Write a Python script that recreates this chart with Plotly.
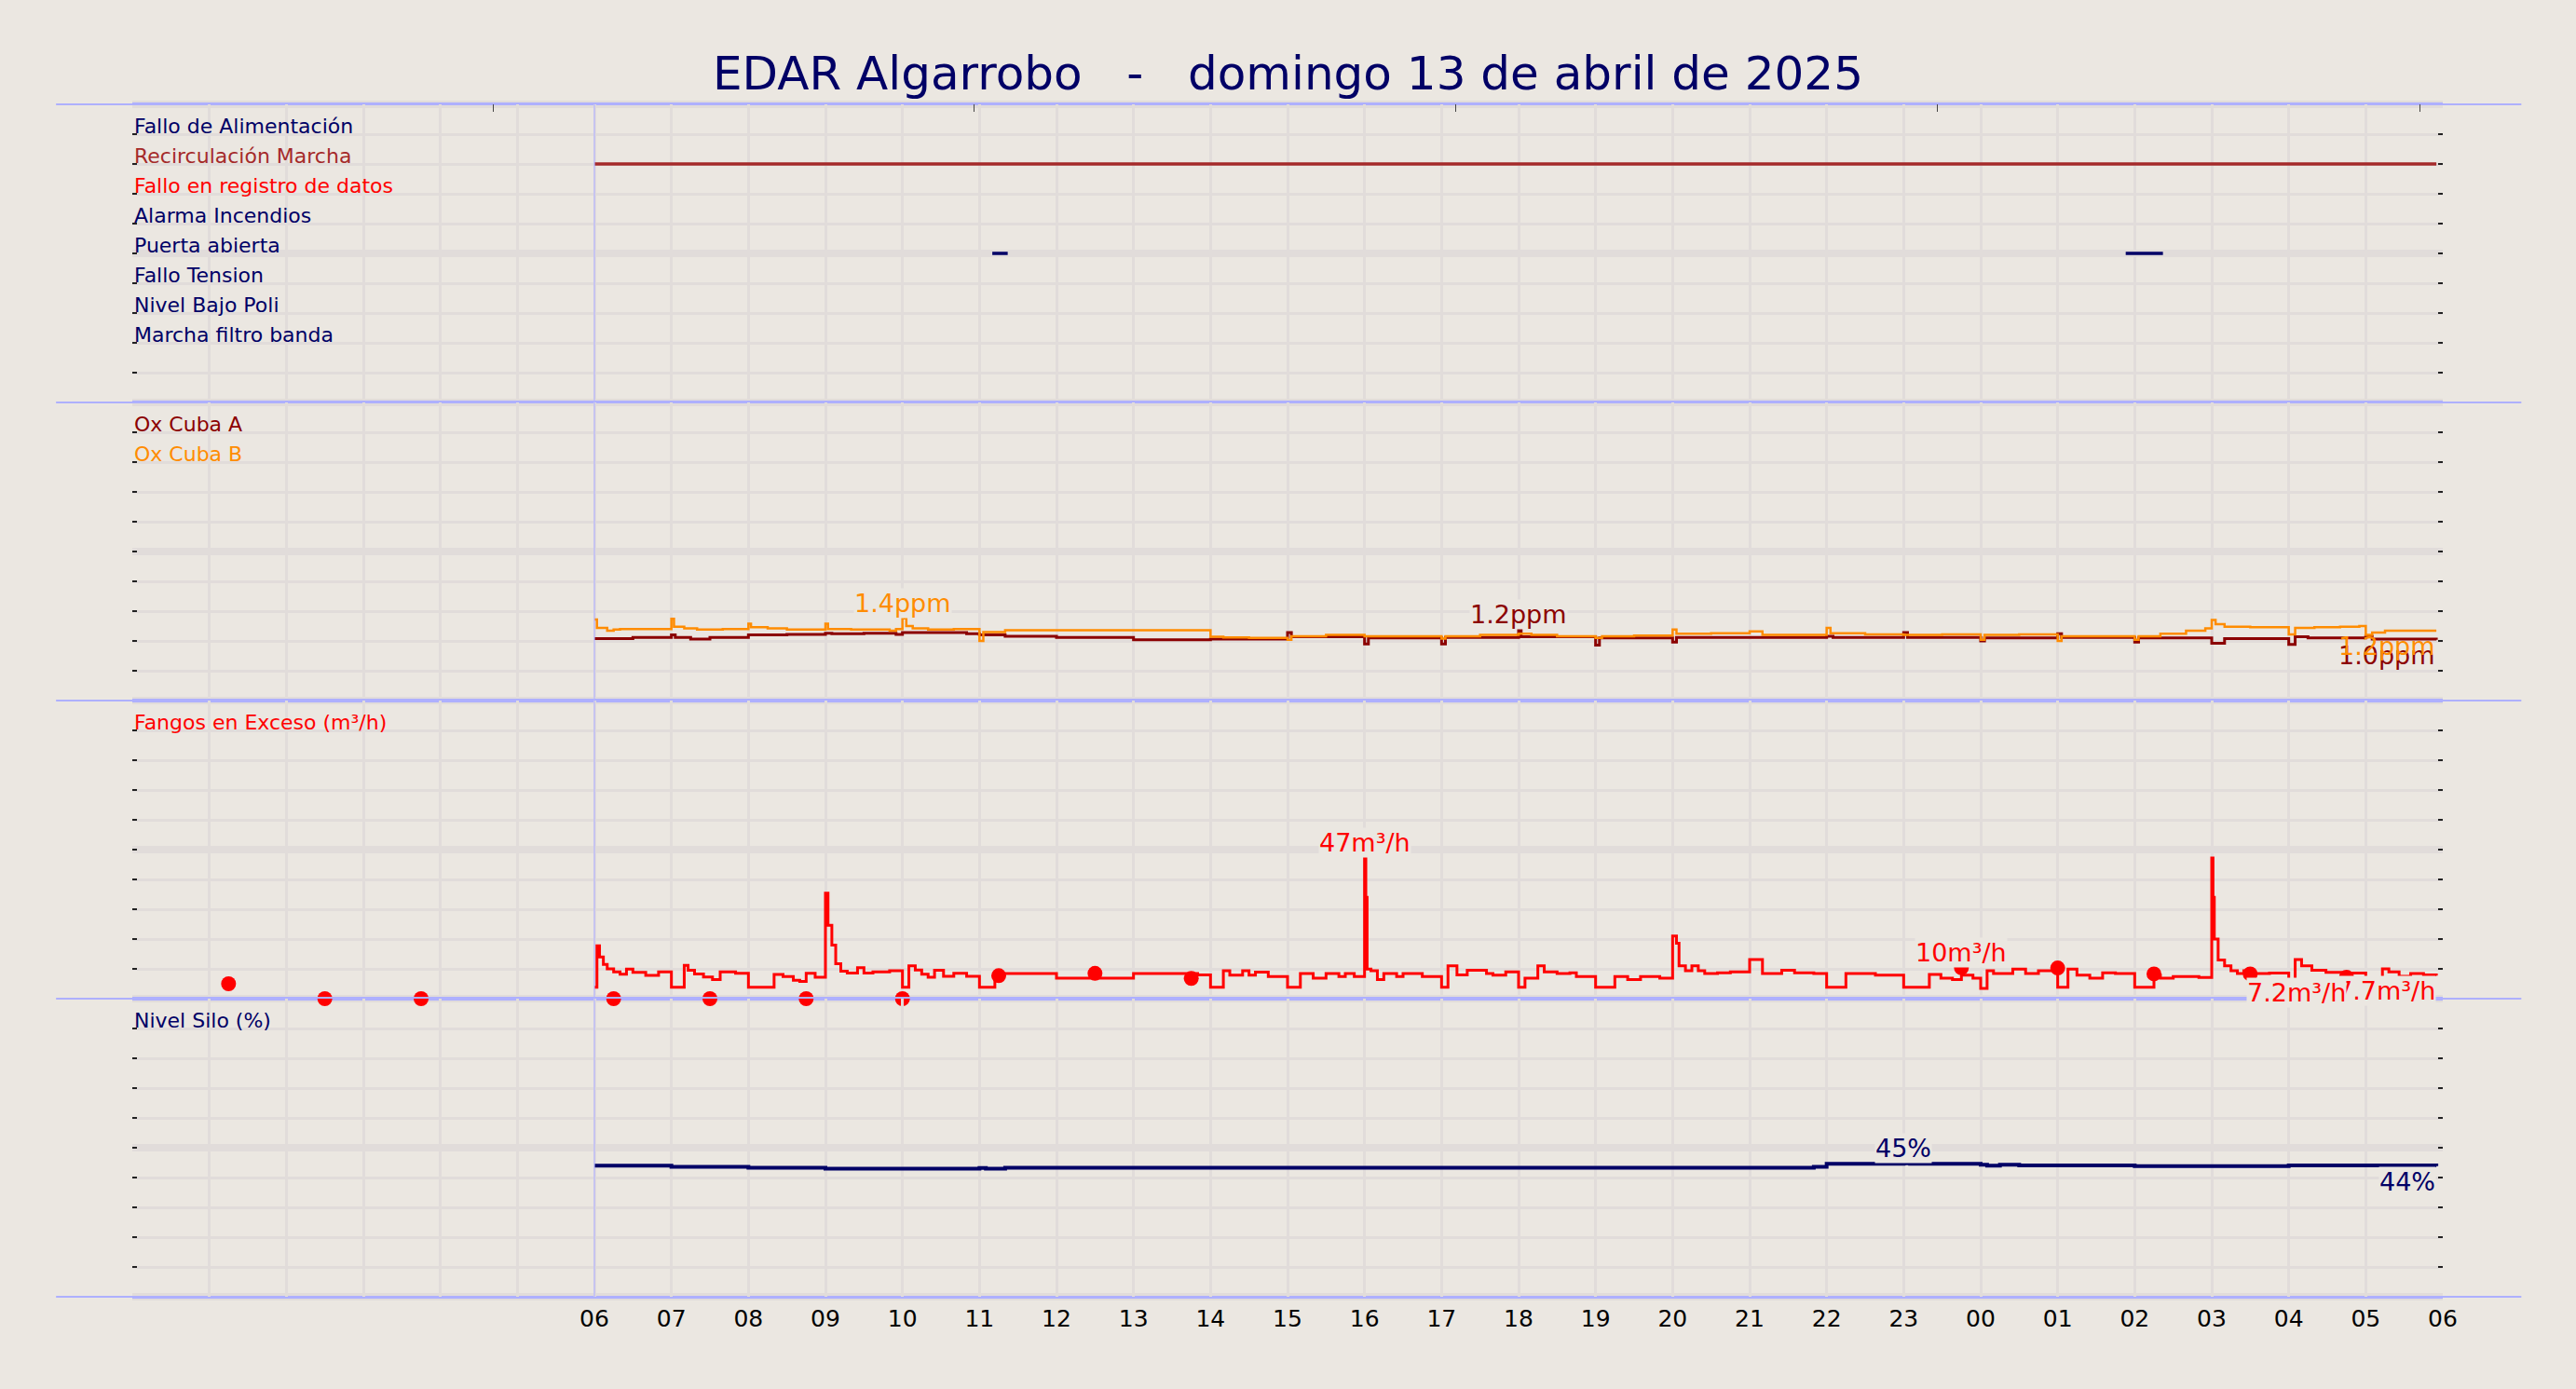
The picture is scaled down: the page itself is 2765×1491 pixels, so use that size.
import plotly.graph_objects as go
from plotly.subplots import make_subplots
from datetime import datetime, timedelta

# ---------------------------------------------------------------
# Datos del día (13/04/2025, 06:00 -> 06:00)
# ---------------------------------------------------------------
TITLE = "EDAR Algarrobo   -   domingo 13 de abril de 2025"

# señales digitales (orden de arriba a abajo)
SIGNAL_NAMES = ["Fallo de Alimentación", "Recirculación Marcha", "Fallo en registro de datos",
                "Alarma Incendios", "Puerta abierta", "Fallo Tension", "Nivel Bajo Poli",
                "Marcha filtro banda"]
SIGNAL_COLORS = ["#000066", "#A52A2A", "#FF0000", "#000066", "#000066", "#000066", "#000066", "#000066"]
SIGNAL_ON = [[], [("06:00", "05:55")], [], [], [("11:10", "11:22"), ("01:53", "02:22")], [], [], []]

# oxígeno cubas (ppm), cambios de escalón
OXA_T = ["06:00", "06:30", "07:00", "07:03", "07:15", "07:30", "08:00", "08:30", "09:00", "09:05",
         "09:30", "09:55", "10:00", "10:50", "11:00", "11:20", "12:00", "13:00", "14:00", "15:00",
         "15:03", "16:00", "16:03", "17:00", "17:03", "18:00", "18:02", "19:00", "19:03", "20:00",
         "20:03", "22:00", "22:05", "23:00", "23:03", "00:00", "00:03", "01:00", "01:03", "02:00",
         "02:03", "03:00", "03:10", "04:00", "04:05", "04:15", "05:00", "05:05", "05:55"]
OXA_V = [1.04, 1.06, 1.10, 1.06, 1.03, 1.06, 1.10, 1.11, 1.13, 1.12,
         1.13, 1.11, 1.14, 1.12, 1.10, 1.08, 1.06, 1.02, 1.03, 1.14,
         1.07, 0.95, 1.05, 0.95, 1.06, 1.19, 1.07, 0.93, 1.05, 0.98,
         1.06, 1.08, 1.06, 1.14, 1.06, 1.00, 1.05, 1.12, 1.06, 0.98,
         1.05, 0.96, 1.04, 0.94, 1.07, 1.05, 1.08, 1.03, 1.02]

OXB_T = ["06:00", "06:02", "06:10", "06:15", "06:20", "07:00", "07:02", "07:10", "07:20", "07:40",
         "08:00", "08:02", "08:15", "08:30", "09:00", "09:02", "09:20", "09:50", "09:55", "10:00",
         "10:03", "10:08", "10:20", "10:40", "11:00", "11:03", "11:20", "14:00", "14:10", "14:30",
         "15:00", "15:03", "15:30", "16:00", "17:00", "17:03", "17:30", "18:00", "18:10", "18:30",
         "19:00", "19:05", "19:30", "20:00", "20:03", "20:30", "21:00", "21:10", "22:00", "22:03",
         "22:30", "23:00", "23:30", "00:00", "00:03", "00:30", "01:00", "01:03", "02:00", "02:03",
         "02:20", "02:40", "02:55", "03:00", "03:03", "03:10", "03:30", "04:00", "04:05", "04:20",
         "04:40", "04:55", "05:00", "05:05", "05:15", "05:55"]
OXB_V = [1.36, 1.22, 1.17, 1.19, 1.20, 1.37, 1.24, 1.21, 1.19, 1.20,
         1.29, 1.23, 1.21, 1.19, 1.29, 1.20, 1.19, 1.17, 1.20, 1.38,
         1.25, 1.21, 1.19, 1.20, 1.00, 1.15, 1.18, 1.07, 1.06, 1.05,
         1.02, 1.08, 1.10, 1.08, 1.04, 1.08, 1.10, 1.12, 1.10, 1.08,
         1.05, 1.08, 1.09, 1.19, 1.12, 1.13, 1.16, 1.10, 1.22, 1.13,
         1.11, 1.10, 1.11, 1.02, 1.10, 1.11, 1.00, 1.08, 1.02, 1.08,
         1.12, 1.17, 1.21, 1.35, 1.28, 1.24, 1.23, 1.11, 1.22, 1.23,
         1.24, 1.25, 1.10, 1.14, 1.17, 1.17]

# fangos en exceso (m3/h)
FANGOS_T = ["06:00", "06:02", "06:04", "06:07", "06:10", "06:15", "06:20", "06:25", "06:30", "06:40",
            "06:50", "07:00", "07:10", "07:13", "07:18", "07:25", "07:32", "07:38", "07:50", "08:00",
            "08:20", "08:27", "08:35", "08:40", "08:45", "08:52", "09:00", "09:02", "09:05", "09:08",
            "09:12", "09:17", "09:25", "09:30", "09:37", "09:50", "10:00", "10:05", "10:10", "10:15",
            "10:20", "10:25", "10:32", "10:40", "10:50", "11:00", "11:12", "12:00", "13:00", "13:50",
            "14:00", "14:10", "14:15", "14:25", "14:30", "14:35", "14:45", "15:00", "15:10", "15:20",
            "15:30", "15:40", "15:45", "15:52", "16:00", "16:01", "16:02", "16:05", "16:10", "16:15",
            "16:25", "16:30", "16:45", "17:00", "17:05", "17:12", "17:20", "17:35", "17:40", "17:50",
            "18:00", "18:05", "18:15", "18:20", "18:30", "18:40", "18:45", "19:00", "19:15", "19:25",
            "19:35", "19:50", "20:00", "20:03", "20:05", "20:10", "20:15", "20:20", "20:25", "20:35",
            "20:45", "21:00", "21:10", "21:25", "21:35", "21:50", "22:00", "22:15", "22:22", "22:38",
            "23:00", "23:20", "23:29", "23:38", "23:45", "23:54", "00:00", "00:05", "00:10", "00:25",
            "00:35", "00:45", "00:55", "01:00", "01:08", "01:15", "01:25", "01:35", "01:45", "02:00",
            "02:15", "02:20", "02:30", "02:50", "03:00", "03:01", "03:02", "03:05", "03:10", "03:15",
            "03:20", "03:25", "03:30", "03:45", "04:00", "04:05", "04:10", "04:18", "04:29", "04:45",
            "05:00", "05:13", "05:18", "05:26", "05:35", "05:45", "05:55"]
FANGOS_V = [3.8, 17.7, 14.0, 11.5, 10.0, 9.0, 8.2, 9.9, 8.8, 7.8,
            9.0, 3.8, 11.2, 9.5, 8.3, 7.3, 6.4, 9.0, 8.5, 3.8,
            8.1, 7.4, 6.2, 5.8, 8.5, 7.2, 35.4, 24.6, 18.0, 11.7,
            9.2, 8.6, 10.4, 8.6, 9.0, 9.4, 3.8, 11.0, 9.6, 8.2,
            7.2, 9.5, 7.5, 8.5, 7.5, 3.8, 8.4, 6.9, 8.4, 8.0,
            3.8, 9.4, 7.9, 9.4, 7.9, 8.9, 7.4, 3.8, 8.4, 6.9,
            8.4, 7.4, 8.4, 7.4, 47.3, 34.0, 9.9, 9.4, 6.4, 8.4,
            7.4, 8.4, 7.4, 3.8, 11.0, 8.0, 9.5, 8.4, 7.9, 9.0,
            3.8, 6.9, 11.0, 9.0, 8.4, 8.7, 7.4, 3.8, 7.4, 6.4,
            7.4, 6.9, 21.0, 18.6, 11.0, 9.4, 11.0, 9.4, 8.4, 8.7,
            9.0, 13.1, 8.4, 9.5, 8.7, 8.4, 3.8, 8.4, 8.4, 7.9,
            3.8, 8.1, 6.9, 6.4, 7.9, 6.9, 3.4, 9.4, 8.4, 9.9,
            8.4, 9.4, 9.4, 3.8, 9.9, 7.9, 6.9, 8.7, 8.4, 3.8,
            7.9, 6.9, 7.4, 7.1, 47.2, 34.0, 20.0, 13.0, 11.0, 9.4,
            8.4, 9.4, 8.4, 8.6, 6.3, 13.1, 11.0, 9.5, 8.8, 8.6,
            5.3, 10.0, 9.0, 7.5, 8.4, 8.0, 7.7]

# muestras puntuales de fangos (cada 75 min)
MUESTRA_T = ["2025-04-13 01:15", "2025-04-13 02:30", "2025-04-13 03:45", "2025-04-13 05:00",
             "2025-04-13 06:15", "2025-04-13 07:30", "2025-04-13 08:45", "2025-04-13 10:00",
             "2025-04-13 11:15", "2025-04-13 12:30", "2025-04-13 13:45", "2025-04-13 15:00",
             "2025-04-13 16:15", "2025-04-13 17:30", "2025-04-13 18:45", "2025-04-13 20:00",
             "2025-04-13 21:15", "2025-04-13 22:30", "2025-04-13 23:45", "2025-04-14 01:00",
             "2025-04-14 02:15", "2025-04-14 03:30", "2025-04-14 04:45"]
MUESTRA_V = [5.0, 0, 0, None, 0, 0, 0, 0, 7.7, 8.5, 6.8, None, None, None, None, None, None, None,
             10.4, 10.3, 8.3, 8.3, 7.2]

# nivel silo (%)
SILO_T = ["06:00", "07:00", "08:00", "09:00", "11:00", "11:05", "11:20", "21:50", "22:00", "23:00",
          "23:05", "00:00", "00:05", "00:15", "00:30", "02:00", "04:00", "05:55"]
SILO_V = [44.0, 43.6, 43.3, 43.0, 43.2, 43.0, 43.3, 43.6, 44.6, 44.8,
          44.6, 44.3, 44.0, 44.3, 44.1, 43.8, 44.1, 43.8]

# marcas del eje superior
TOP_TICKS = ["2025-04-13 04:41", "2025-04-13 10:56", "2025-04-13 17:11", "2025-04-13 23:26",
             "2025-04-14 05:42"]

BG = "#ebe7e1"
GRID = "#e1dcda"
SEP = "#aeb0ff"
NAVY = "#000066"
FONT = "DejaVu Sans"

X0 = datetime(2025, 4, 13, 0, 0)
X1 = datetime(2025, 4, 14, 6, 0)
DAY_START = datetime(2025, 4, 13, 6, 0)
HOURS = [X0 + timedelta(hours=h) for h in range(31)]
HOUR_TXT = [f"{h % 24:02d}" if h >= 6 else "" for h in range(31)]


def ts(hhmm):
    h, m = map(int, hhmm.split(":"))
    d = datetime(2025, 4, 13, h, m)
    if h < 6:
        d += timedelta(days=1)
    return d


def fmt(v):
    return f"{v:.1f}" if v < 10 else f"{v:.0f}"


fig = make_subplots(rows=4, cols=1, shared_xaxes=True, vertical_spacing=0)

# panel 1: señales
for i, (name, col, on) in enumerate(zip(SIGNAL_NAMES, SIGNAL_COLORS, SIGNAL_ON)):
    level = 9 - i
    xs, ys = [], []
    for a, b in on:
        xs += [ts(a), ts(b), None]
        ys += [level, level, None]
    fig.add_trace(go.Scatter(x=xs, y=ys, mode="lines", line=dict(color=col, width=3.5),
                             name=name, showlegend=False), row=1, col=1)

# panel 2: oxígeno
fig.add_trace(go.Scatter(x=[ts(t) for t in OXA_T], y=OXA_V, mode="lines", line_shape="hv",
                         line=dict(color="#8B0000", width=3), showlegend=False), row=2, col=1)
fig.add_trace(go.Scatter(x=[ts(t) for t in OXB_T], y=OXB_V, mode="lines", line_shape="hv",
                         line=dict(color="#FF8C00", width=2.5), showlegend=False), row=2, col=1)

# panel 3: fangos
fig.add_trace(go.Scatter(x=[ts(t) for t in FANGOS_T], y=FANGOS_V, mode="lines", line_shape="hv",
                         line=dict(color="#FF0000", width=3), showlegend=False), row=3, col=1)
fig.add_trace(go.Scatter(x=MUESTRA_T, y=MUESTRA_V, mode="markers", cliponaxis=False,
                         marker=dict(color="#FF0000", size=16), showlegend=False), row=3, col=1)

# panel 4: silo
fig.add_trace(go.Scatter(x=[ts(t) for t in SILO_T], y=SILO_V, mode="lines", line_shape="hv",
                         line=dict(color=NAVY, width=4), showlegend=False), row=4, col=1)

# ejes
ranges = [(0, 10, 1), (0, 5, 0.5), (0, 100, 10), (0, 100, 10)]
for r, (lo, hi, dt) in enumerate(ranges, start=1):
    fig.update_yaxes(range=[lo, hi], dtick=dt, tick0=0, showgrid=True, gridcolor=GRID, gridwidth=3,
                     zeroline=False, showticklabels=False, ticks="inside", ticklen=5, tickwidth=2,
                     tickcolor="#222222", mirror="ticks", row=r, col=1)
    common = dict(range=[X0, X1], showgrid=True, gridcolor=GRID, gridwidth=3, zeroline=False,
                  showline=True, linecolor=SEP, linewidth=2, layer="below traces")
    if r == 1:
        fig.update_xaxes(side="top", tickmode="array", tickvals=TOP_TICKS, ticks="inside", ticklen=8,
                         tickwidth=1, tickcolor="#444444", showticklabels=False,
                         minor=dict(tickmode="array", tickvals=HOURS, showgrid=True, gridcolor=GRID,
                                    gridwidth=3, ticks=""),
                         row=r, col=1, **{**common, "showgrid": False})
    else:
        fig.update_xaxes(tickmode="array", tickvals=HOURS, ticktext=HOUR_TXT, ticks="",
                         showticklabels=(r == 4), mirror=True,
                         tickfont=dict(size=25, color="black"), row=r, col=1, **common)

# bandas grises y separadores azules
for k in range(9):
    fig.add_shape(type="line", xref="paper", yref="paper", x0=0, x1=1, y0=k / 8, y1=k / 8,
                  line=dict(color=GRID, width=8), layer="below")
for k in range(5):
    fig.add_shape(type="line", xref="paper", yref="paper", x0=-0.033, x1=1.034, y0=k / 4, y1=k / 4,
                  line=dict(color=SEP, width=2), layer="below")
# inicio de la jornada
fig.add_shape(type="line", xref="x4", yref="paper", x0=DAY_START, x1=DAY_START, y0=0, y1=1,
              line=dict(color="#b4b4ff", width=1.2), layer="above")


def label(row, level, text, color):
    ax = "" if row == 1 else str(row)
    fig.add_annotation(xref=f"x{ax} domain", yref="y" + ax, x=0, y=level, xanchor="left",
                       yanchor="bottom", yshift=-6, text=text, showarrow=False,
                       font=dict(size=22, color=color, family=FONT))


def tag(row, x, y, text, color, kind, bg=True):
    ax = "" if row == 1 else str(row)
    if kind == "max":
        pos = dict(xanchor="center", yanchor="bottom")
    else:
        pos = dict(xanchor="right", yanchor="top")
    fig.add_annotation(xref="x" + ax, yref="y" + ax, x=x, y=y, text=text, showarrow=False,
                       bgcolor=BG if bg else None, borderpad=0,
                       font=dict(size=27, color=color, family=FONT), **pos)


for i, (name, col) in enumerate(zip(SIGNAL_NAMES, SIGNAL_COLORS)):
    label(1, 9 - i, name, col)
label(2, 4.5, "Ox Cuba A", "#8B0000")
label(2, 4.0, "Ox Cuba B", "#FF8C00")
label(3, 90, "Fangos en Exceso (m³/h)", "#FF0000")
label(4, 90, "Nivel Silo (%)", NAVY)

# etiquetas de máximo y de último valor
for t, v, col in [(OXA_T, OXA_V, "#8B0000"), (OXB_T, OXB_V, "#FF8C00")]:
    im = v.index(max(v))
    tag(2, ts(t[im]), v[im], fmt(v[im]) + "ppm", col, "max")
for t, v, col in [(OXA_T, OXA_V, "#8B0000"), (OXB_T, OXB_V, "#FF8C00")]:
    tag(2, ts(t[-1]), v[-1], fmt(v[-1]) + "ppm", col, "end", bg=False)

im = FANGOS_V.index(max(FANGOS_V))
tag(3, ts(FANGOS_T[im]), FANGOS_V[im], fmt(FANGOS_V[im]) + "m³/h", "#FF0000", "max")
mv = [v for v in MUESTRA_V if v is not None]
im = MUESTRA_V.index(max(mv))
tag(3, MUESTRA_T[im], MUESTRA_V[im], fmt(MUESTRA_V[im]) + "m³/h", "#FF0000", "max")
tag(3, ts(FANGOS_T[-1]), FANGOS_V[-1], fmt(FANGOS_V[-1]) + "m³/h", "#FF0000", "end")
tag(3, MUESTRA_T[-1], MUESTRA_V[-1], fmt(MUESTRA_V[-1]) + "m³/h", "#FF0000", "end")

im = SILO_V.index(max(SILO_V))
tag(4, ts(SILO_T[im]), SILO_V[im], fmt(SILO_V[im]) + "%", NAVY, "max")
tag(4, ts(SILO_T[-1]), SILO_V[-1], fmt(SILO_V[-1]) + "%", NAVY, "end")

fig.update_layout(
    title=dict(text=TITLE, x=0.5, xanchor="center", y=0.9475, yanchor="middle",
               font=dict(size=50, color=NAVY, family=FONT)),
    font=dict(family=FONT, color="black"),
    paper_bgcolor=BG,
    plot_bgcolor="rgba(0,0,0,0)",
    width=2765,
    height=1491,
    margin=dict(l=142, r=143, t=112, b=99),
    showlegend=False,
)

fig.write_html("out.html", config={"displayModeBar": False},
               post_script="document.body.style.margin='0';document.body.style.overflow='hidden';")
